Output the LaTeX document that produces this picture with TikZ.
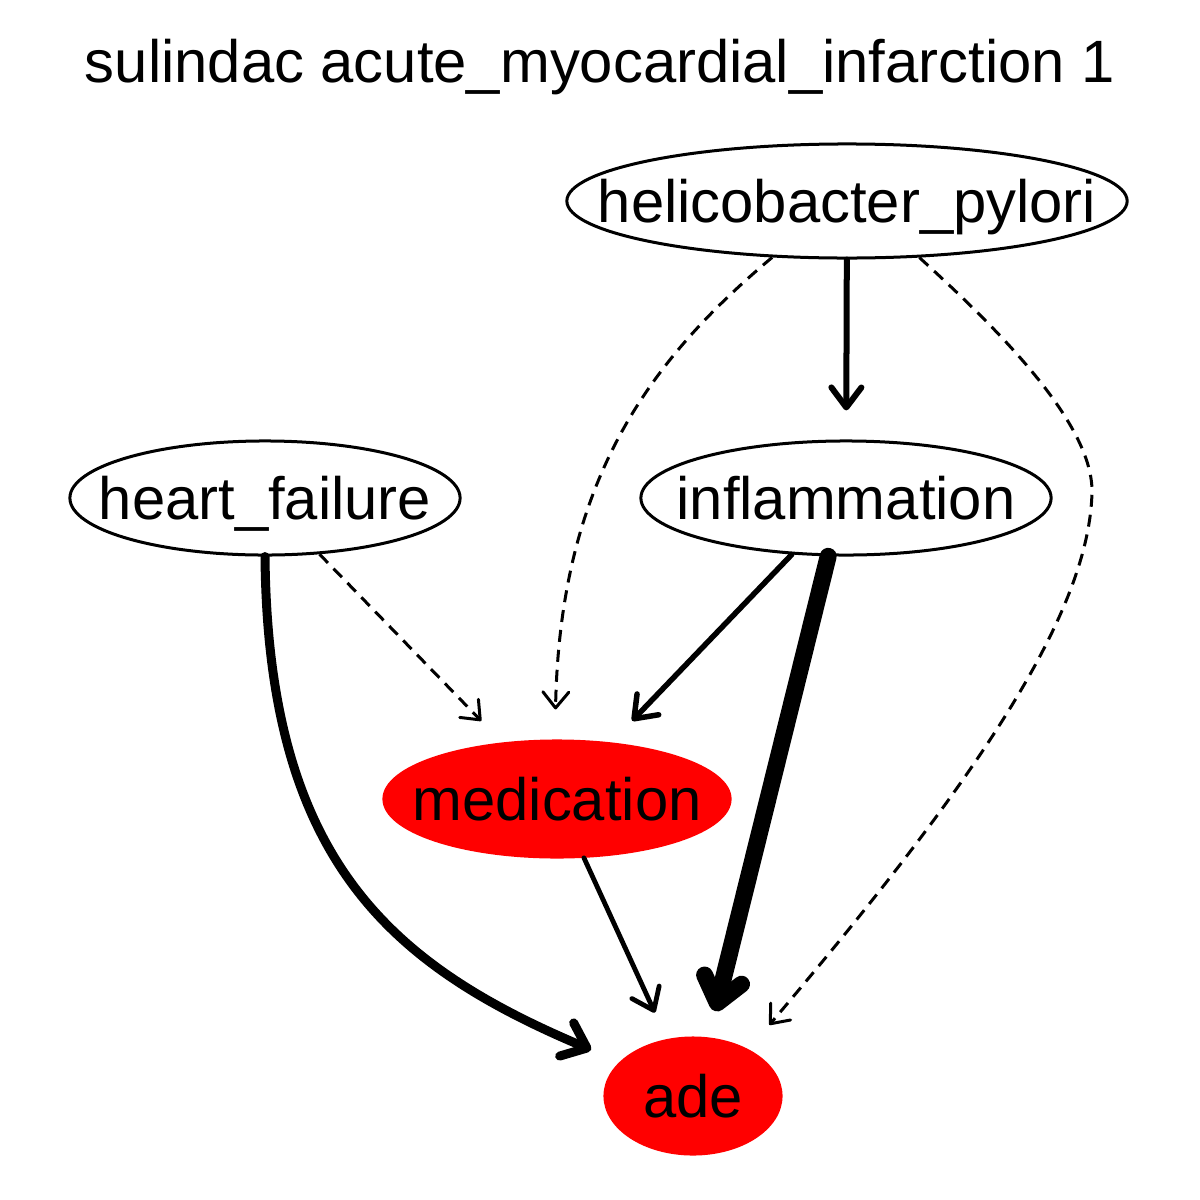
\documentclass[tikz,border=0pt]{standalone}
\usepackage{fontspec}
\setmainfont{Liberation Sans}
\usetikzlibrary{shapes.geometric,arrows.meta}
\begin{document}
\begin{tikzpicture}[x=0.01cm,y=-0.01cm,
  every node/.style={font=\fontsize{17}{20}\selectfont},
  nd/.style={ellipse, draw, line width=0.03cm, inner sep=0pt, text height=0.43cm, text depth=0.01cm},
  rednd/.style={nd, draw=red, fill=red},
  dsh/.style={line width=0.03cm, dash pattern=on 0.12cm off 0.08cm, -{Straight Barb[length=0.16cm,width=0.26cm,round]}},
  mid/.style={line width=0.055cm, line cap=round, -{Straight Barb[length=0.2cm,width=0.3cm,round]}},
  thk/.style={line width=0.09cm, line cap=round, -{Straight Barb[length=0.22cm,width=0.36cm,round]}},
  thkst/.style={line width=0.17cm, line cap=round, -{Straight Barb[length=0.24cm,width=0.38cm,round]}}]
\useasboundingbox (0,0) rectangle (1200,1200);
\node[anchor=base] (title) at (600,82) {sulindac acute\_myocardial\_infarction 1};
\node[nd, minimum width=5.6cm, minimum height=1.14cm] (hp) at (847,201) {\makebox[0pt]{helicobacter\_pylori}};
\node[nd, minimum width=3.9cm, minimum height=1.14cm] (hf) at (265,498) {\makebox[0pt]{heart\_failure}};
\node[nd, minimum width=4.1cm, minimum height=1.14cm] (inf) at (846,498) {\makebox[0pt]{inflammation}};
\node[rednd, minimum width=3.46cm, minimum height=1.16cm] (med) at (557,799) {\makebox[0pt]{medication}};
\node[rednd, minimum width=1.76cm, minimum height=1.16cm] (ade) at (693,1096) {\makebox[0pt]{ade}};
\coordinate (hpbend) at (1092,491);
% edges
\draw[mid, line width=0.06cm, shorten >=0.29cm] (hp) -- (inf);
\draw[dsh, shorten >=0.3cm] (hp.217) .. controls (650,360) and (560,480) .. (med.92);
\draw[dsh, shorten >=0.32cm] (hp.-38) .. controls (990,322) and (1092,420) .. (hpbend)
   .. controls (1090,620) and (960,800) .. (ade.40);
\draw[dsh, shorten >=0.3cm] (hf) -- (med);
\draw[thk, shorten >=0.31cm] (hf.south) .. controls (268,860) and (390,965) .. (ade.155);
\draw[mid, shorten >=0.3cm] (inf) -- (med);
\draw[thkst, shorten >=0.27cm] (inf.253) -- (ade.75);
\draw[mid, line width=0.048cm, shorten >=0.29cm] (med) -- (ade);
\end{tikzpicture}
\end{document}
